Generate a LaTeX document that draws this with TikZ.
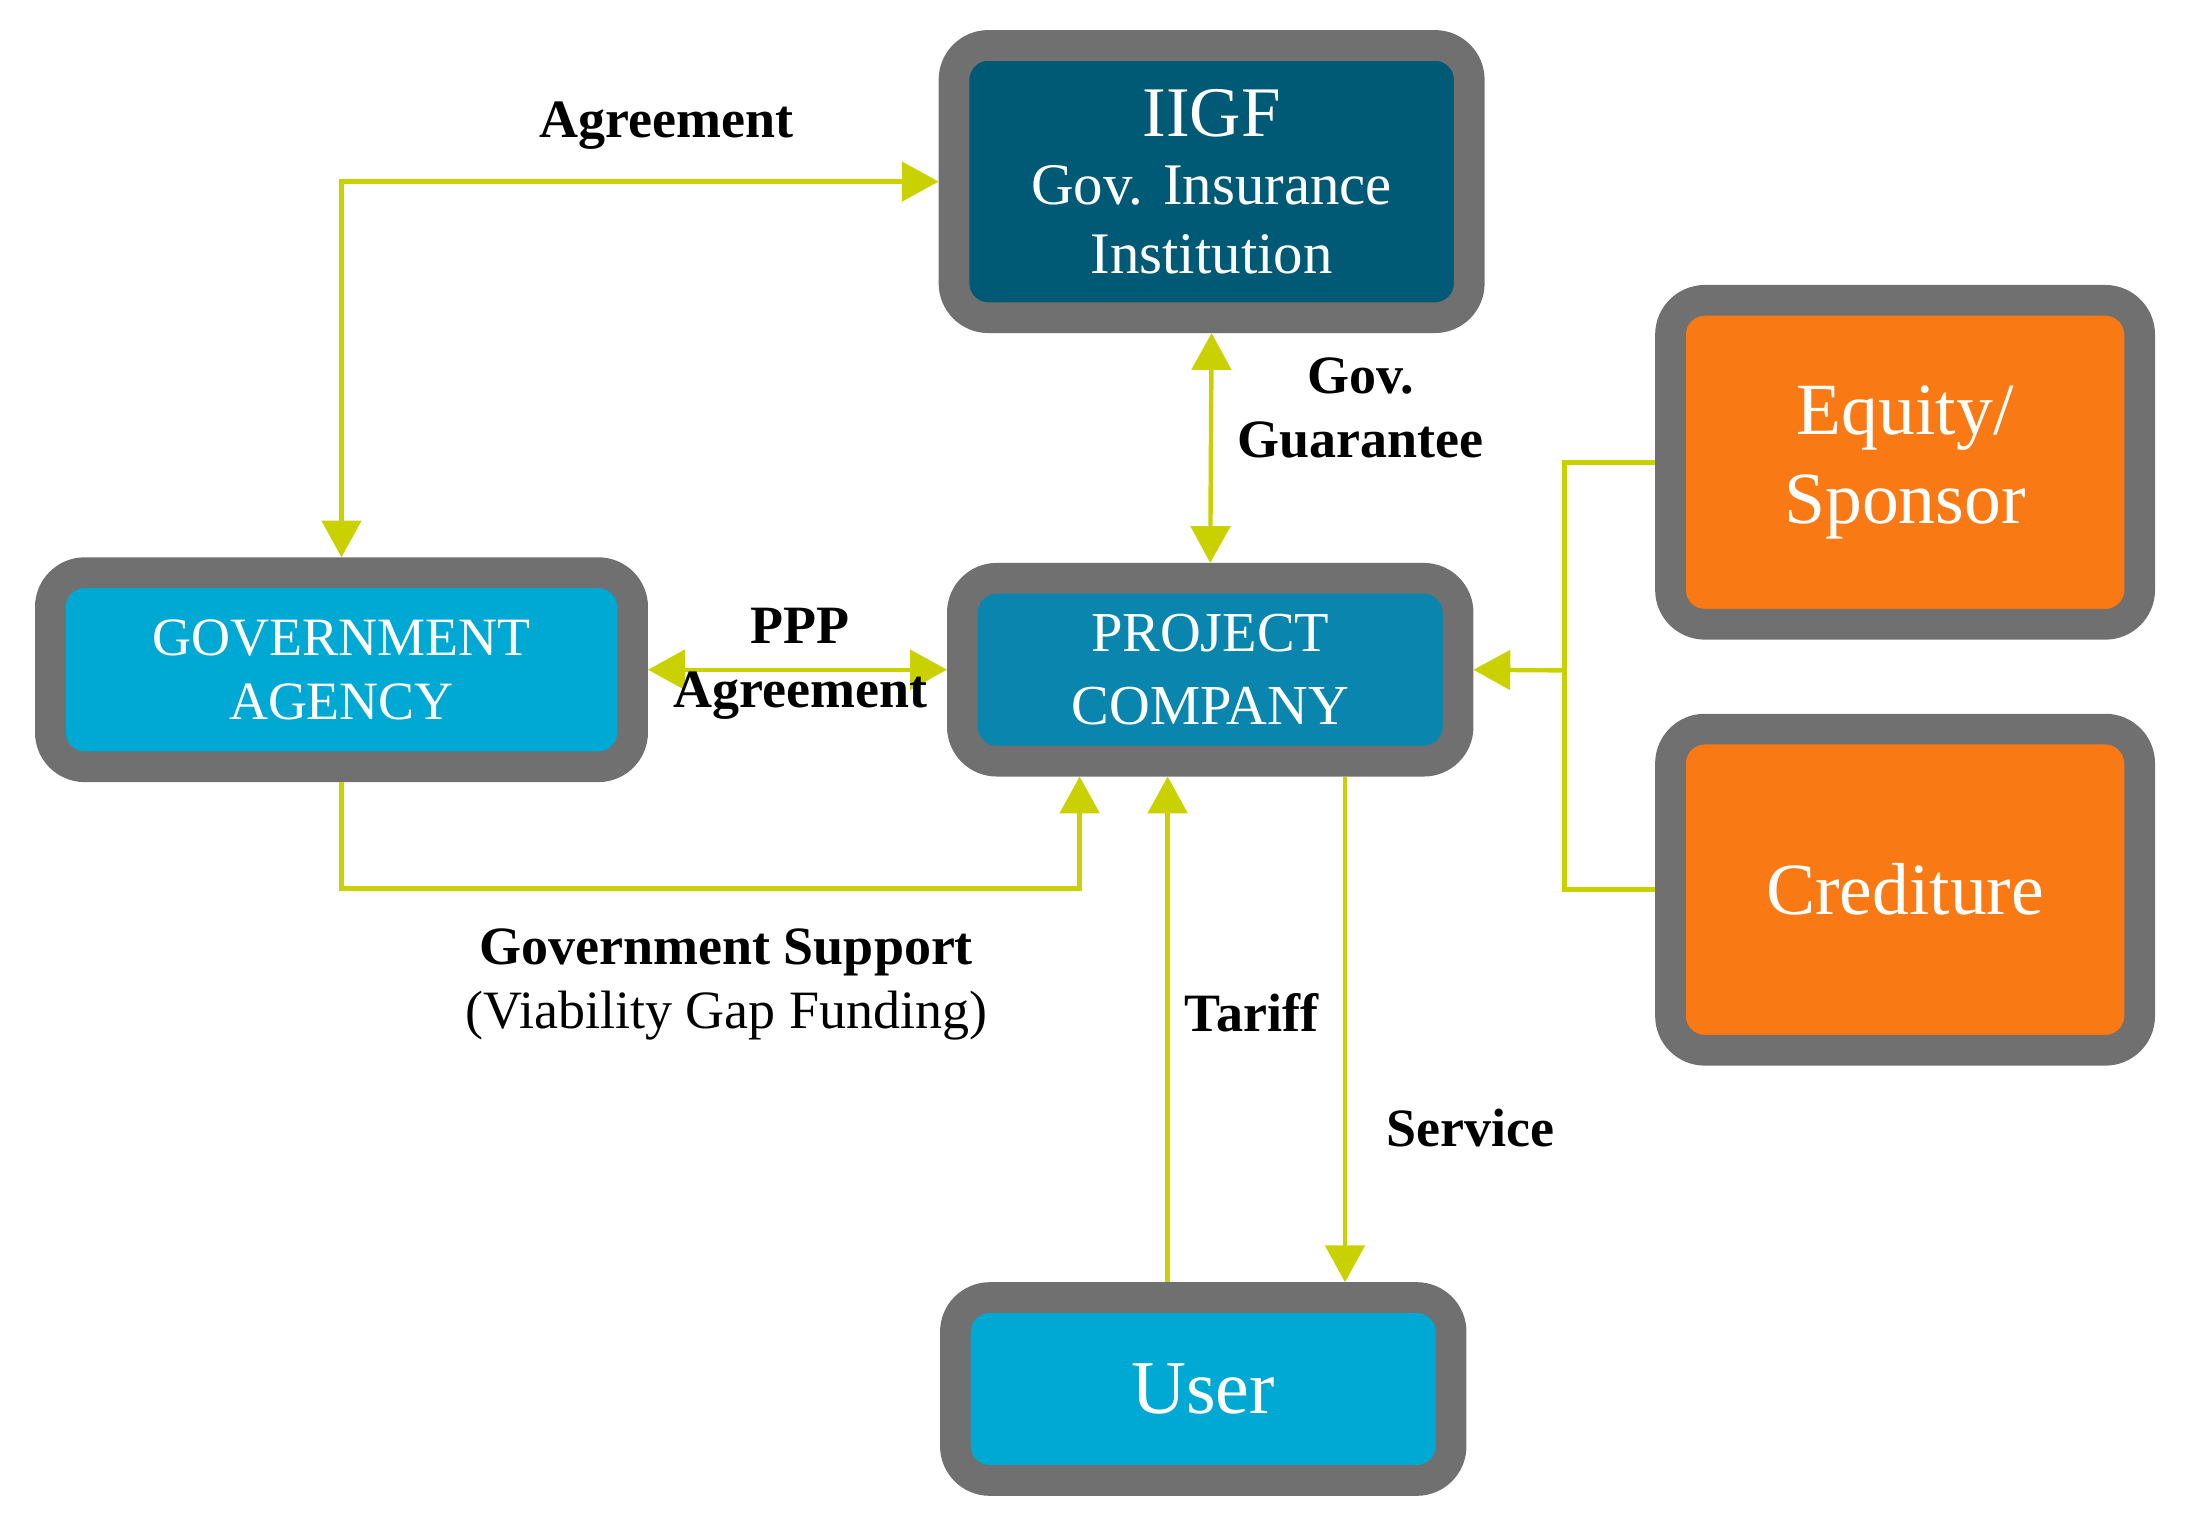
\documentclass[tikz,border=0pt]{standalone}
\usepackage{fontspec}
\setmainfont{Liberation Serif}
\usetikzlibrary{arrows.meta}
\definecolor{gborder}{HTML}{707070}
\definecolor{dteal}{HTML}{005A75}
\definecolor{lblue}{HTML}{00A8D4}
\definecolor{mblue}{HTML}{0A86AE}
\definecolor{orng}{HTML}{F97A14}
\definecolor{yel}{HTML}{C9D200}
\begin{document}
\begin{tikzpicture}[x=0.02cm,y=-0.02cm,
  box/.style={draw=gborder,line width=12.5pt,rounded corners=14pt,inner sep=0pt,text=white,align=center},
  conn/.style={draw=yel,line width=1.8pt,-{Triangle[length=15pt,width=16pt]}},
  conn2/.style={conn,{Triangle[length=15pt,width=16pt]}-{Triangle[length=15pt,width=16pt]}},
  lbl/.style={font=\fontsize{22}{26}\selectfont\bfseries,align=center}]
\useasboundingbox (0,0) rectangle (1568,1095);
\node[box,fill=dteal,minimum width=7.38cm,minimum height=3.9cm,font=\fontsize{24}{28}\selectfont] (iigf) at (867.5,130)
 {{\fontsize{29}{32}\selectfont IIGF}\\Gov. Insurance\\Institution};
\node[box,fill=lblue,minimum width=8.34cm,minimum height=2.78cm,font=\fontsize{22}{26}\selectfont] (gov) at (244.5,479.5)
 {GOVERNMENT\\AGENCY};
\node[box,fill=mblue,minimum width=7.1cm,minimum height=2.62cm,font=\fontsize{23}{30}\selectfont] (pc) at (866.5,479.5)
 {PROJECT\\COMPANY};
\node[box,fill=orng,minimum width=6.72cm,minimum height=4.64cm,font=\fontsize{30}{36}\selectfont] (eq) at (1364,331)
 {Equity/\\Sponsor};
\node[box,fill=orng,minimum width=6.72cm,minimum height=4.6cm,font=\fontsize{30}{36}\selectfont] (cr) at (1364,637)
 {Crediture};
\node[box,fill=lblue,minimum width=7.1cm,minimum height=2.62cm,font=\fontsize{31}{36}\selectfont] (user) at (861.5,994.5)
 {User};
\coordinate (s1) at (773,636);
\coordinate (tx) at (836,0);
\coordinate (sx) at (963,0);
\coordinate (j) at (1120,480);
\draw[conn2] (gov.north) |- (iigf.west);
\draw[conn2] (iigf.south) -- (pc.north);
\draw[conn2] (gov.east) -- (pc.west);
\draw[conn] (gov.south) |- (s1) -- (s1 |- pc.south);
\draw[conn] (tx |- user.north) -- (tx |- pc.south);
\draw[conn] (sx |- pc.south) -- (sx |- user.north);
\draw[draw=yel,line width=1.8pt] (eq.west) -| (j) |- (cr.west);
\draw[conn] (j) -- (pc.east);
\node[lbl] (l1) at (477,90) {Agreement};
\node[lbl] (l2) at (974,292) {Gov.\\Guarantee};
\node[lbl] (l3) at (573,475) {PPP\\Agreement};
\node[lbl] (l4) at (520,705) {Government Support\\\mdseries (Viability Gap Funding)};
\node[lbl] (l5) at (896,725) {Tariff};
\node[lbl] (l6) at (1053,808) {Service};
\end{tikzpicture}
\end{document}
